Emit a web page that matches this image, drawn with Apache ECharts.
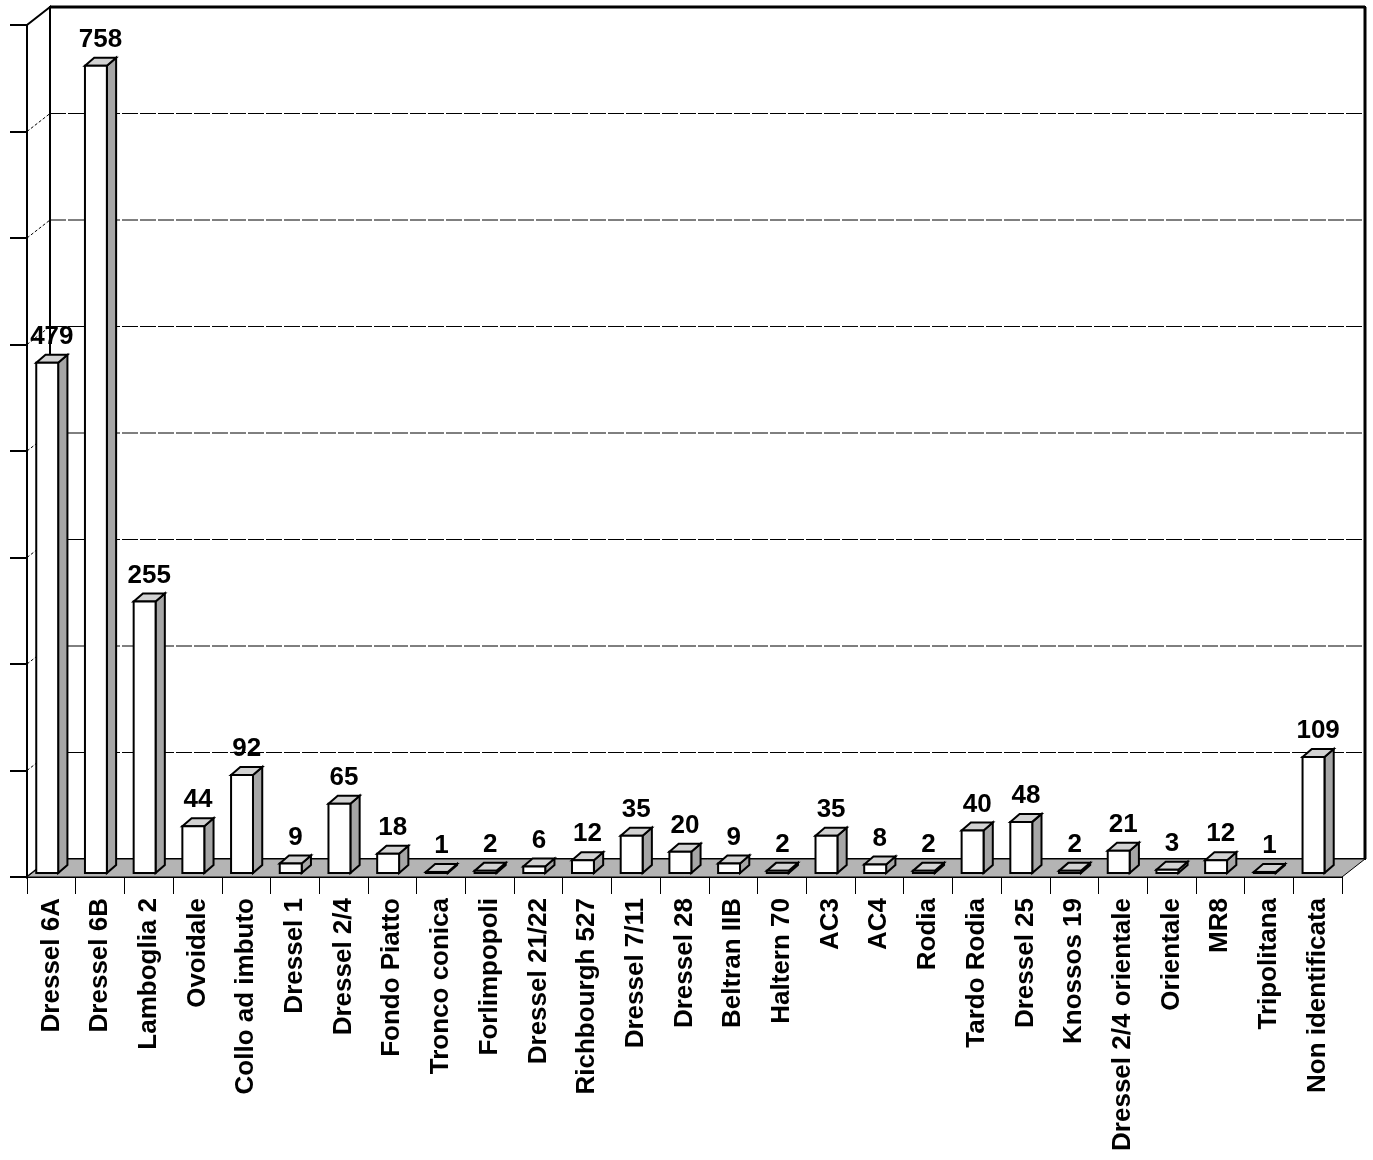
<!DOCTYPE html>
<html>
<head>
<meta charset="utf-8">
<script src="https://cdn.jsdelivr.net/npm/echarts@6/dist/echarts.min.js"></script>
<style>
html, body { margin: 0; padding: 0; background: #fff; }
#main { width: 1373px; height: 1160px; }
</style>
</head>
<body>
<div id="main"></div>
<script>
// categorie e valori
var categories = ['Dressel 6A', 'Dressel 6B', 'Lamboglia 2', 'Ovoidale', 'Collo ad imbuto', 'Dressel 1',
    'Dressel 2/4', 'Fondo Piatto', 'Tronco conica', 'Forlimpopoli', 'Dressel 21/22', 'Richbourgh 527',
    'Dressel 7/11', 'Dressel 28', 'Beltran IIB', 'Haltern 70', 'AC3', 'AC4', 'Rodia', 'Tardo Rodia',
    'Dressel 25', 'Knossos 19', 'Dressel 2/4 orientale', 'Orientale', 'MR8', 'Tripolitana', 'Non identificata'];
var counts = [479, 758, 255, 44, 92, 9, 65, 18, 1, 2, 6, 12, 35, 20, 9, 2, 35, 8, 2, 40, 48, 2, 21, 3, 12, 1, 109];
var yMax = 800;
var yStep = 100;

var FONT = '"Liberation Sans", Arial, sans-serif';
var DEPTH_X = 23, DEPTH_Y = 18;     // profondita' delle pareti
var SIDE = '#a6a6a6', TOP = '#d2d2d2', FLOOR = '#b4b4b4';

function renderFrame(params, api) {
    var cs = params.coordSys;
    var x0 = cs.x, x1 = cs.x + cs.width;
    var y0 = api.coord([0, 0])[1];
    var yTop = api.coord([0, yMax])[1];
    var children = [];
    // parete di fondo
    children.push({ type: 'rect', shape: { x: x0 + DEPTH_X, y: yTop - DEPTH_Y, width: x1 - x0, height: y0 - yTop },
        style: { fill: '#fff', stroke: '#000', lineWidth: 2 } });
    // parete sinistra
    children.push({ type: 'polygon', shape: { points: [[x0, y0], [x0, yTop], [x0 + DEPTH_X, yTop - DEPTH_Y], [x0 + DEPTH_X, y0 - DEPTH_Y]] },
        style: { fill: '#fff', stroke: '#000', lineWidth: 2 } });
    // linee di griglia
    for (var v = yStep; v < yMax; v += yStep) {
        var y = api.coord([0, v])[1];
        children.push({ type: 'line', shape: { x1: x0 + DEPTH_X, y1: y - DEPTH_Y, x2: x1 + DEPTH_X, y2: y - DEPTH_Y },
            style: { stroke: '#000', lineWidth: 1, lineDash: [16, 2] } });
        children.push({ type: 'line', shape: { x1: x0, y1: y, x2: x0 + DEPTH_X, y2: y - DEPTH_Y },
            style: { stroke: '#000', lineWidth: 1, lineDash: [3, 2] } });
    }
    // bordo destro e superiore spessi
    children.push({ type: 'line', shape: { x1: x1 + DEPTH_X, y1: yTop - DEPTH_Y, x2: x1 + DEPTH_X, y2: y0 - DEPTH_Y },
        style: { stroke: '#000', lineWidth: 3 } });
    children.push({ type: 'line', shape: { x1: x0 + DEPTH_X, y1: yTop - DEPTH_Y, x2: x1 + DEPTH_X, y2: yTop - DEPTH_Y },
        style: { stroke: '#000', lineWidth: 3 } });
    // pavimento
    children.push({ type: 'polygon', shape: { points: [[x0, y0], [x1, y0], [x1 + DEPTH_X, y0 - DEPTH_Y], [x0 + DEPTH_X, y0 - DEPTH_Y]] },
        style: { fill: FLOOR, stroke: '#000', lineWidth: 1 } });
    return { type: 'group', children: children };
}

function renderBar(params, api) {
    var i = api.value(0), v = api.value(1);
    var top = api.coord([i, v]);
    var base = api.coord([i, 0]);
    var cw = api.size([1, 0])[0];
    var bw = cw * 0.45, off = cw * 0.31, dx = cw * 0.19, dy = 8, lift = 4;
    var xa = top[0] - off, xb = xa + bw;
    var yb = base[1] - lift, yt = top[1] - lift;
    return {
        type: 'group',
        children: [
            { type: 'polygon', shape: { points: [[xb, yb], [xb, yt], [xb + dx, yt - dy], [xb + dx, yb - dy]] },
                style: { fill: SIDE, stroke: '#000', lineWidth: 2 } },
            { type: 'polygon', shape: { points: [[xa, yt], [xb, yt], [xb + dx, yt - dy], [xa + dx, yt - dy]] },
                style: { fill: TOP, stroke: '#000', lineWidth: 2 } },
            { type: 'rect', shape: { x: xa, y: yt, width: bw, height: yb - yt },
                style: { fill: '#fff', stroke: '#000', lineWidth: 2 } },
            { type: 'text', style: { text: String(v), x: xa + (bw + dx) / 2, y: yt - dy - 5,
                align: 'center', verticalAlign: 'bottom', fill: '#000',
                fontSize: 26, fontWeight: 'bold', fontFamily: FONT } }
        ]
    };
}

var chart = echarts.init(document.getElementById('main'), null, { renderer: 'canvas' });
var option = {
    backgroundColor: '#fff',
    animation: false,
    grid: { left: 27, right: 31, top: 25, bottom: 283 },
    xAxis: {
        type: 'category',
        data: categories,
        boundaryGap: true,
        axisLine: { show: true, lineStyle: { color: '#000', width: 2 } },
        axisTick: { show: true, interval: 0, length: 17, lineStyle: { color: '#000', width: 1 } },
        axisLabel: { interval: 0, rotate: 90, margin: 21, color: '#000', fontSize: 26,
            fontWeight: 'bold', fontFamily: FONT },
        splitLine: { show: false }
    },
    yAxis: {
        type: 'value',
        min: 0,
        max: yMax,
        interval: yStep,
        axisLine: { show: true, lineStyle: { color: '#000', width: 2 } },
        axisTick: { show: true, length: 17, lineStyle: { color: '#000', width: 2 } },
        axisLabel: { show: false },
        splitLine: { show: false }
    },
    series: [
        {
            type: 'custom',
            name: 'frame',
            renderItem: renderFrame,
            data: [[0, 0]],
            z: 1,
            silent: true
        },
        {
            type: 'custom',
            name: 'anfore',
            renderItem: renderBar,
            data: counts.map(function (c, i) { return [i, c]; }),
            encode: { x: 0, y: 1 },
            z: 5
        }
    ]
};
chart.setOption(option);
</script>
</body>
</html>
